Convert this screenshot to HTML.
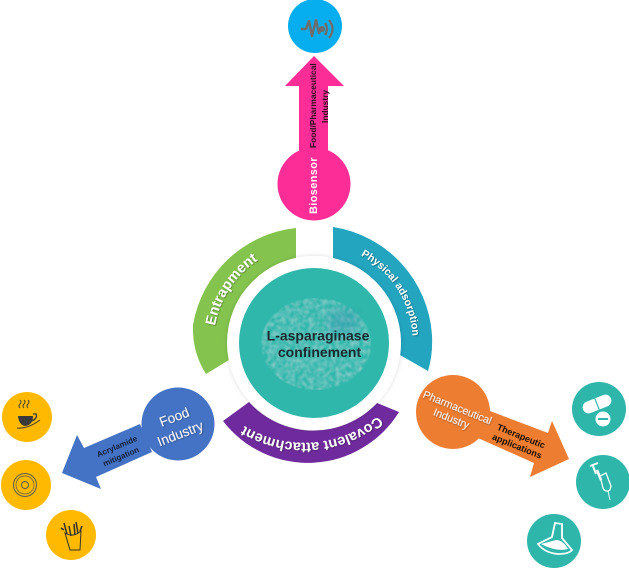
<!DOCTYPE html>
<html><head><meta charset="utf-8">
<style>html,body{margin:0;padding:0;background:#fff}svg{display:block}text{font-family:"Liberation Sans",sans-serif}</style>
</head><body>
<svg width="629" height="569" viewBox="0 0 629 569" xmlns="http://www.w3.org/2000/svg">
<defs>
<filter id="prot" x="0" y="0" width="100%" height="100%">
<feTurbulence type="fractalNoise" baseFrequency="0.22" numOctaves="2" seed="4" result="n"/>
<feColorMatrix in="n" type="matrix" values="0 0 0 0 0.27  0 0 0 0 0.60  0 0 0 0 0.60  0 0 0 1.8 -0.55"/>
<feComposite in2="SourceAlpha" operator="in"/>
<feGaussianBlur stdDeviation="0.6"/>
</filter>
<filter id="soft"><feGaussianBlur stdDeviation="6"/></filter>
<filter id="ring" x="-20%" y="-20%" width="140%" height="140%"><feDropShadow dx="0" dy="0" stdDeviation="2" flood-color="#000" flood-opacity="0.15"/></filter>
<filter id="ts" x="-10%" y="-30%" width="120%" height="160%"><feDropShadow dx="0.6" dy="0.6" stdDeviation="0.5" flood-color="#000" flood-opacity="0.5"/></filter>
<path id="pEnt" d="M215 326 A100 100 0 0 1 265 256" fill="none"/>
<path id="pPhy" d="M360 255 A98 98 0 0 1 410 365" fill="none"/>
<path id="pCov" d="M378 416 A115 115 0 0 1 226 412" fill="none"/>
</defs>

<!-- ring arcs -->
<path d="M296 228 A117 117 0 0 0 193 325 Q192 352 206 374 L229 360 A87 87 0 0 1 296 258 Z" fill="#84c44e"/>
<path d="M333 227 A117 117 0 0 1 432 335 Q433 355 428 371 L400 355 A87 87 0 0 0 333 258 Z" fill="#23a5c0"/>
<path d="M223 421 A107 107 0 0 0 399 412 L377 403 A87 87 0 0 1 249 402 Z" fill="#6f2b9d"/>

<!-- center -->
<circle cx="314" cy="343" r="87" fill="#fff" filter="url(#ring)"/>
<circle cx="314" cy="343" r="75" fill="#2eb7aa"/>
<ellipse cx="316" cy="344" rx="55" ry="46" fill="#000" filter="url(#prot)"/>
<ellipse cx="343" cy="322" rx="16" ry="13" fill="#3b93b4" opacity=".4" filter="url(#soft)"/>
<text x="318" y="340.500" text-anchor="middle" font-size="14" font-weight="700" fill="#1b2a30">L-asparaginase</text>
<text x="319.500" y="357" text-anchor="middle" font-size="14" font-weight="700" fill="#1b2a30">confinement</text>

<!-- arc labels -->
<text font-size="14.500" font-weight="700" fill="#fff" filter="url(#ts)"><textPath href="#pEnt">Entrapment</textPath></text>
<text font-size="10.500" font-weight="700" fill="#fff" filter="url(#ts)"><textPath href="#pPhy" startOffset="1">Physical adsorption</textPath></text>
<text font-size="14.500" font-weight="700" fill="#fff" filter="url(#ts)"><textPath href="#pCov">Covalent attachment</textPath></text>

<!-- biosensor -->
<circle cx="315" cy="26" r="27" fill="#07aeef"/>
<path d="M301 29 H306 L309 21 L312 36 L316 20 L319 33 L321 29" fill="none" stroke="#6d6d6d" stroke-width="2.500" stroke-linejoin="round"/>
<circle cx="322" cy="29" r="3" fill="#6d6d6d"/>
<path d="M325 23 Q329 29 325 35 M329 20 Q336 29 329 38" fill="none" stroke="#6d6d6d" stroke-width="2.300"/>
<path d="M314 56 L344 86 H328 V160 H299 V86 H285 Z" fill="#fc2d97"/>
<circle cx="314" cy="184" r="36.500" fill="#fc2d97"/>
<text transform="translate(317 214) rotate(-90)" font-size="11" font-weight="700" letter-spacing=".35" fill="#fff">Biosensor</text>
<text transform="translate(316 148) rotate(-90)" font-size="8.400" font-weight="700" fill="#2b1020">Food/Pharmaceutical</text>
<text transform="translate(328 123) rotate(-90)" font-size="8.400" font-weight="700" fill="#2b1020">Industry</text>

<!-- food -->
<path d="M62 473 L77 435 L84 448 L140 424 L152 452 L96 477 L101 489 Z" fill="#4472c4"/>
<circle cx="178" cy="424" r="36.500" fill="#4472c4"/>
<text transform="translate(176 421.500) rotate(-21)" text-anchor="middle" fill="#fff" font-size="13.500" filter="url(#ts)">Food</text>
<text transform="translate(182 438) rotate(-21)" text-anchor="middle" fill="#fff" font-size="13.500" filter="url(#ts)">Industry</text>
<text transform="translate(118 449) rotate(-23)" text-anchor="middle" fill="#14203a" font-size="8" font-weight="700">Acrylamide</text>
<text transform="translate(122 459) rotate(-23)" text-anchor="middle" fill="#14203a" font-size="8" font-weight="700">mitigation</text>
<circle cx="27" cy="417" r="25" fill="#ffb900"/>
<circle cx="26" cy="485" r="25" fill="#ffb900"/>
<circle cx="71" cy="535" r="25" fill="#ffb900"/>
<!-- coffee -->
<path d="M18 416 H33 Q33 425 25 426 Q19 425 18 416 Z" fill="#3a3a3a"/>
<path d="M33 414 h3 q2 4 -4 7" fill="none" stroke="#3a3a3a" stroke-width="1.300"/>
<path d="M17 428 Q28 429 40 420" fill="none" stroke="#3a3a3a" stroke-width="1"/>
<path d="M20 408 q-2 -2 0 -4 q2 -2 0 -4 M24 408 q-2 -2 0 -4 q2 -2 0 -4 M28 408 q-2 -2 0 -4 q2 -2 0 -4" fill="none" stroke="#3a3a3a" stroke-width=".9"/>
<!-- donut -->
<circle cx="25" cy="485" r="11.500" fill="none" stroke="#5b5b5b" stroke-width="1"/>
<circle cx="25" cy="485" r="9" fill="none" stroke="#5b5b5b" stroke-width=".7"/>
<circle cx="25" cy="485" r="3.500" fill="none" stroke="#5b5b5b" stroke-width="1"/>
<!-- fries -->
<path d="M65 533 L70 550 H80 L81 531 Q73 538 65 533 Z" fill="none" stroke="#333" stroke-width="1"/>
<path d="M64 530 L61 528 M67 534 L64 523 M71 536 L69 526 M75 535 L74 524 M78 533 L76 522 M80 531 L82 526" stroke="#333" stroke-width="1.500" fill="none"/>

<!-- pharma -->
<path d="M569 459 L552 421 L548 433 L490 411 L478 438 L534 463 L530 477 Z" fill="#ed7d31"/>
<circle cx="453" cy="412" r="37" fill="#ed7d31"/>
<text transform="translate(456 411) rotate(22)" text-anchor="middle" fill="#fff" font-size="10.600" filter="url(#ts)">Pharmaceutical</text>
<text transform="translate(450 422) rotate(22)" text-anchor="middle" fill="#fff" font-size="10.600" filter="url(#ts)">Industry</text>
<text transform="translate(520 439) rotate(22)" text-anchor="middle" fill="#1c1005" font-size="9" font-weight="700">Therapeutic</text>
<text transform="translate(516 449) rotate(22)" text-anchor="middle" fill="#1c1005" font-size="9" font-weight="700">applications</text>
<circle cx="599" cy="409" r="27" fill="#2fb6ab"/>
<circle cx="603" cy="482" r="27" fill="#2fb6ab"/>
<circle cx="554" cy="541" r="27" fill="#2fb6ab"/>
<!-- pills -->
<g transform="rotate(-22 597 404)"><rect x="582" y="398" width="30" height="12" rx="6" fill="#fff"/><line x1="597" y1="398" x2="597" y2="410" stroke="#2fb6ab" stroke-width="1.200"/></g>
<circle cx="603" cy="419" r="7.500" fill="#fff"/><rect x="598" y="418" width="10" height="2" fill="#2fb6ab"/>
<!-- syringe -->
<path d="M590 466 L598 463 M593 466 L596 474" stroke="#fff" stroke-width="2" fill="none"/>
<path d="M600 476 L606 473 L611 486 Q610 492 607 491 Q604 491 603 488 Z" fill="none" stroke="#fff" stroke-width="1.300"/>
<path d="M597 470 L601 480" stroke="#fff" stroke-width="2.500"/>
<path d="M608 491 L610 500" stroke="#fff" stroke-width=".9"/>
<!-- flask -->
<path d="M555 523 L562 524 L562 538 L572 550 Q569 554 558 554 Q545 553 538 544 L552 537 Z" fill="none" stroke="#fff" stroke-width="1.800"/>
<path d="M541 544 L556 540 Q563 540 568 549 Q556 552 541 544 Z" fill="#fff"/>
</svg>
</body></html>
